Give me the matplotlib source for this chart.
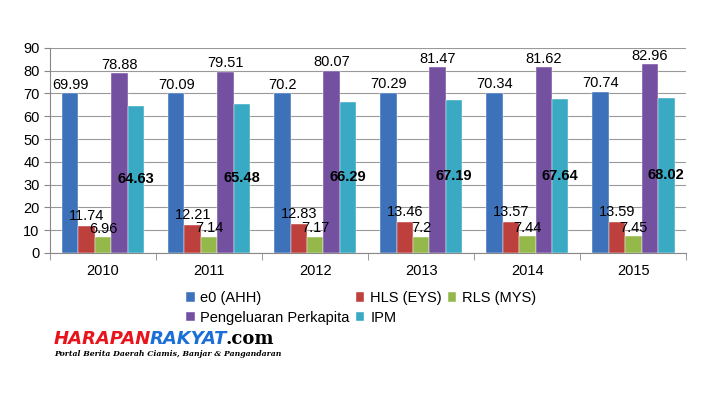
import matplotlib
matplotlib.use("Agg")
import matplotlib.pyplot as plt
import numpy as np

years = ["2010", "2011", "2012", "2013", "2014", "2015"]
e0 = [69.99, 70.09, 70.2, 70.29, 70.34, 70.74]
hls = [11.74, 12.21, 12.83, 13.46, 13.57, 13.59]
rls = [6.96, 7.14, 7.17, 7.2, 7.44, 7.45]
peng = [78.88, 79.51, 80.07, 81.47, 81.62, 82.96]
ipm = [64.63, 65.48, 66.29, 67.19, 67.64, 68.02]
names = ["e0 (AHH)", "HLS (EYS)", "RLS (MYS)", "Pengeluaran Perkapita", "IPM"]
colors = ["#3D72BB", "#BE403D", "#94B84A", "#7450A0", "#3AA9C3"]

plt.rcParams['font.family'] = ['Liberation Sans', 'DejaVu Sans']
fig = plt.figure(figsize=(7.2, 3.99), dpi=100)
ax = fig.add_axes([0.0694, 0.366, 0.884, 0.514])

x = np.arange(len(years))
w = 0.155
series = [e0, hls, rls, peng, ipm]
for i, (s, c, n) in enumerate(zip(series, colors, names)):
    ax.bar(x + (i - 2) * w, s, w, color=c, label=n, zorder=3,
           edgecolor="white", linewidth=0.3)

fs = 10.5
for i, s in enumerate(series):
    for xi, v in zip(x, s):
        xc = xi + (i - 2) * w
        lab = f"{v:g}"
        if i == 4:
            ax.text(xc, v / 2, lab, ha="center", va="center", fontsize=fs,
                    fontweight="bold", zorder=5)
        elif i == 1:
            ax.text(xc, v + 1.3, lab, ha="center", va="bottom", fontsize=fs, zorder=5)
        else:
            ax.text(xc, v + 0.6, lab, ha="center", va="bottom", fontsize=fs, zorder=5)

ax.set_ylim(0, 90)
ax.set_yticks(range(0, 91, 10))
ax.set_xlim(-0.5, len(years) - 0.5)
ax.set_xticks(x)
ax.set_xticklabels(years)
ax.set_xticks(np.arange(-0.5, len(years), 1), minor=True)
ax.tick_params(axis="x", which="major", length=0, labelsize=fs, pad=8)
ax.tick_params(axis="x", which="minor", length=5, color="#888888")
ax.tick_params(axis="y", length=4, color="#888888", labelsize=fs)
ax.yaxis.grid(True, color="#999999", linewidth=0.8, zorder=0)
for sp in ["top", "right"]:
    ax.spines[sp].set_visible(False)
ax.spines["left"].set_color("#888888")
ax.spines["bottom"].set_color("#888888")

h, l = ax.get_legend_handles_labels()
order = [0, 3, 1, 4, 2]
fig.legend([h[i] for i in order], [l[i] for i in order], ncol=3,
           loc="upper left", bbox_to_anchor=(0.25, 0.285), frameon=False,
           fontsize=fs, handlelength=0.6, handleheight=0.6, handletextpad=0.4,
           columnspacing=0.4, labelspacing=0.4, borderaxespad=0)

# watermark
wy = 0.138
t1 = fig.text(0.075, wy, "HARAPAN", fontsize=13, fontweight="bold",
              style="italic", color="#E8141B", family="DejaVu Sans")
fig.canvas.draw()
bb = t1.get_window_extent()
t2 = fig.text(bb.x1 / fig.bbox.width - 0.003, wy, "RAKYAT", fontsize=13, fontweight="bold",
              style="italic", color="#1C6FD6", family="DejaVu Sans")
fig.canvas.draw()
bb2 = t2.get_window_extent()
fig.text(bb2.x1 / fig.bbox.width - 0.002, wy, ".com", fontsize=13, fontweight="bold",
         color="black", family="DejaVu Serif")
fig.text(0.075, 0.108, "Portal Berita Daerah Ciamis, Banjar & Pangandaran",
         fontsize=5.6, style="italic", fontweight="bold", color="black",
         family="DejaVu Serif")

fig.savefig("out.png", dpi=100)
